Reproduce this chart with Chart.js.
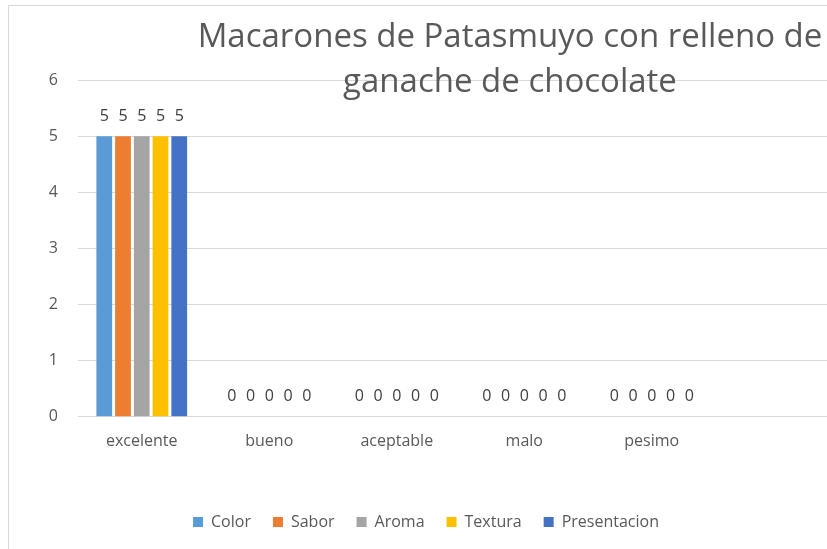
<!DOCTYPE html>
<html>
<head>
<meta charset="utf-8">
<script src="https://cdn.jsdelivr.net/npm/chart.js@4"></script>
<style>
  html, body { margin: 0; padding: 0; background: #fff; overflow: hidden; }
  #frame {
    position: absolute; left: 8px; top: 5px;
    width: 840px; height: 600px;
    border: 1px solid #d9d9d9;
    background: #fff;
  }
  #chart { display: block; }
</style>
</head>
<body>
<div id="frame"><canvas id="chart" width="834" height="544"></canvas></div>
<script>
const categories = ["excelente", "bueno", "aceptable", "malo", "pesimo", ""];
const colorValues = [5, 0, 0, 0, 0];
const saborValues = [5, 0, 0, 0, 0];
const aromaValues = [5, 0, 0, 0, 0];
const texturaValues = [5, 0, 0, 0, 0];
const presentacionValues = [5, 0, 0, 0, 0];
const yTicks = [0, 1, 2, 3, 4, 5, 6];
const titleLines = ["Macarones de Patasmuyo con relleno de", "ganache de chocolate"];

const FONT = "'Open Sans', sans-serif";
const TEXT = "#595959";

// value labels above each bar
const valueLabels = {
    id: "valueLabels",
    afterDatasetsDraw(chart) {
        const ctx = chart.ctx;
        ctx.save();
        ctx.font = "16px " + FONT;
        ctx.fillStyle = "#404040";
        ctx.textAlign = "center";
        ctx.textBaseline = "middle";
        chart.data.datasets.forEach((ds, i) => {
            chart.getDatasetMeta(i).data.forEach((bar, j) => {
                const v = ds.data[j];
                if (v === null || v === undefined) return;
                ctx.fillText(String(v), bar.x, bar.y - 20);
            });
        });
        ctx.restore();
    },
};

// title centred over the whole (wider) chart object
const chartTitle = {
    id: "chartTitle",
    afterDraw(chart) {
        const ctx = chart.ctx;
        ctx.save();
        ctx.font = "33px " + FONT;
        ctx.fillStyle = TEXT;
        ctx.textAlign = "center";
        ctx.textBaseline = "alphabetic";
        ctx.fillText(titleLines[0], 501, 41);
        ctx.fillText(titleLines[1], 501, 86);
        ctx.restore();
    },
};

const makeSet = (label, data, color) => ({
    label: label,
    data: data,
    backgroundColor: color,
    categoryPercentage: 0.735,
    barPercentage: 0.84,
});

new Chart(document.getElementById("chart"), {
    type: "bar",
    data: {
        labels: categories,
        datasets: [
            makeSet("Color", colorValues, "#5B9BD5"),
            makeSet("Sabor", saborValues, "#ED7D31"),
            makeSet("Aroma", aromaValues, "#A5A5A5"),
            makeSet("Textura", texturaValues, "#FFC000"),
            makeSet("Presentacion", presentacionValues, "#4472C4"),
        ],
    },
    options: {
        responsive: false,
        animation: false,
        layout: { padding: { top: 74, left: 0, right: 0, bottom: 10 } },
        plugins: {
            title: { display: false },
            tooltip: { enabled: false },
            legend: {
                position: "bottom",
                labels: {
                    boxWidth: 10,
                    boxHeight: 10,
                    padding: 22,
                    color: TEXT,
                    font: { family: FONT, size: 16 },
                },
            },
        },
        scales: {
            x: {
                grid: { display: false, drawTicks: false },
                border: { display: false },
                ticks: { color: TEXT, font: { family: FONT, size: 16 }, padding: 15 },
                afterFit(scale) { scale.height += 26; },
            },
            y: {
                min: 0,
                max: 6,
                afterBuildTicks(scale) { scale.ticks = yTicks.map(v => ({ value: v })); },
                grid: { color: "#d9d9d9", drawTicks: false },
                border: { display: false },
                ticks: { color: TEXT, font: { family: FONT, size: 16 }, padding: 20 },
                afterFit(scale) { scale.width = 69; },
            },
        },
    },
    plugins: [valueLabels, chartTitle],
});
</script>
</body>
</html>
